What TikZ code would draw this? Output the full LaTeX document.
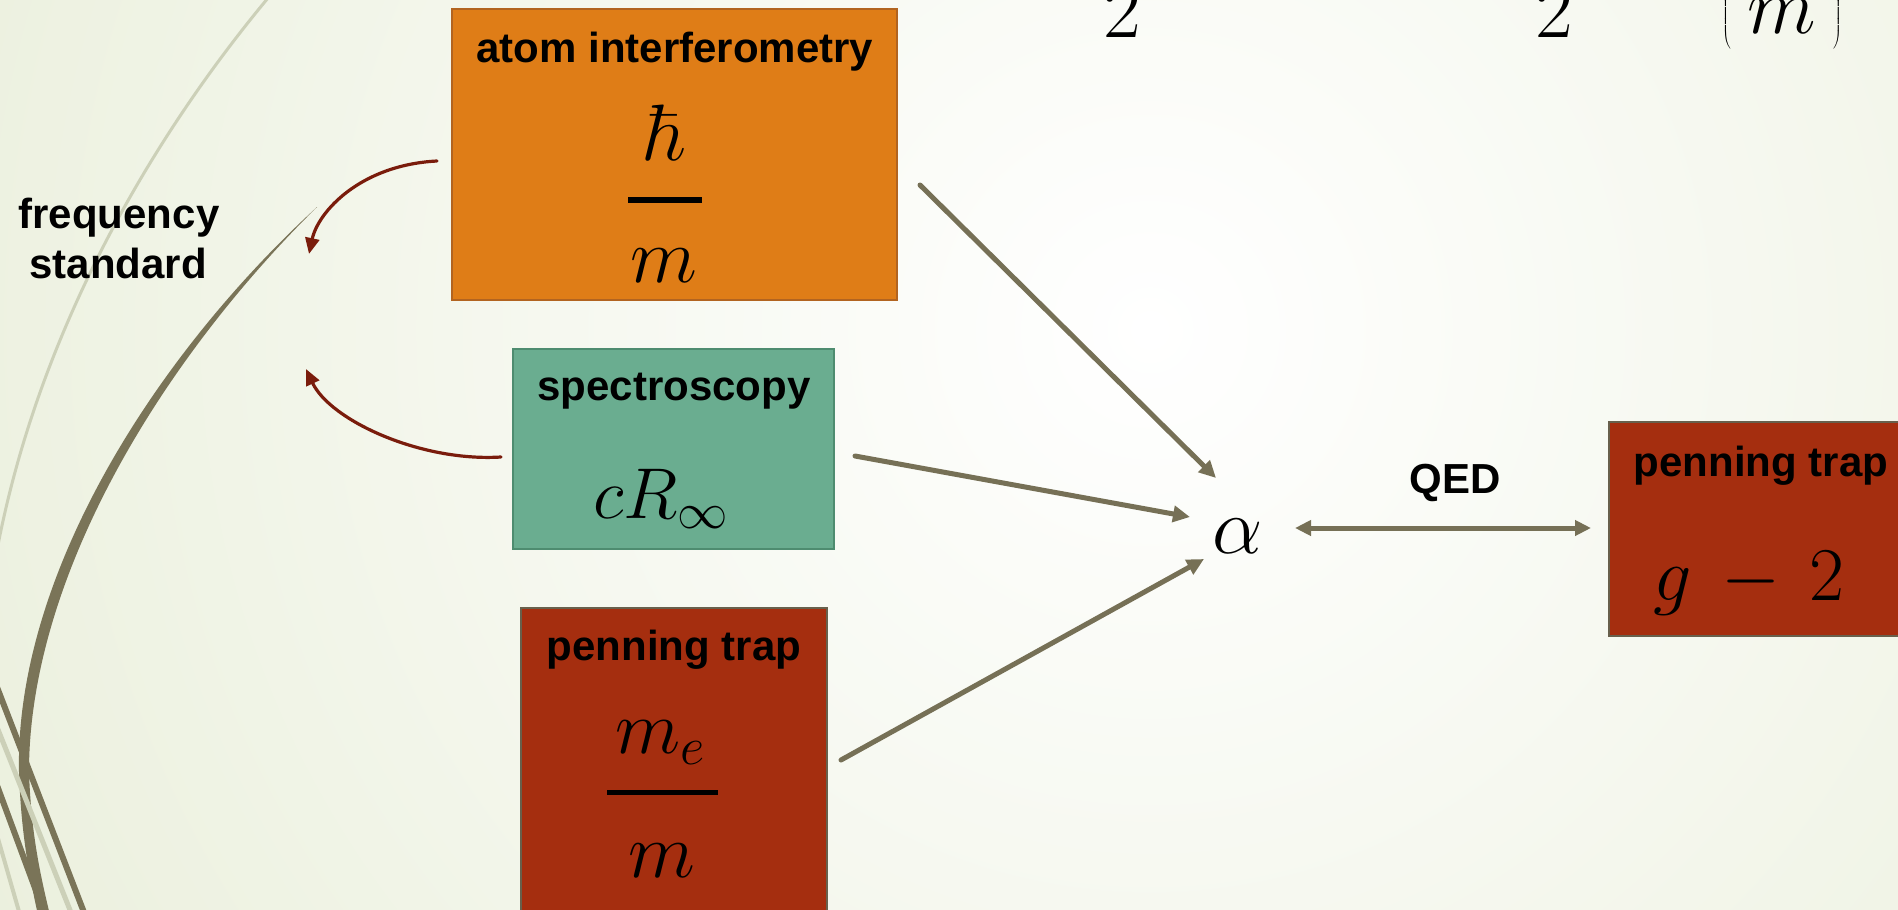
\RequirePackage{fix-cm}
\documentclass[tikz,border=0pt]{standalone}
\usepackage[no-math]{fontspec}
\newfontfamily\arialfont{Liberation Sans}
\usetikzlibrary{arrows.meta}
\definecolor{bgg}{RGB}{226,233,206}
\definecolor{wispdark}{RGB}{122,116,88}
\definecolor{wisplight}{RGB}{204,208,184}
\definecolor{orfill}{RGB}{223,125,23}
\definecolor{ordraw}{RGB}{178,100,32}
\definecolor{grfill}{RGB}{106,173,144}
\definecolor{grdraw}{RGB}{78,140,112}
\definecolor{rdfill}{RGB}{165,46,15}
\definecolor{rddraw}{RGB}{104,96,76}
\definecolor{arrowc}{RGB}{118,112,86}
\definecolor{curvec}{RGB}{122,28,12}
\tikzset{
  slidebox/.style={rectangle, inner sep=0pt, line width=2.5pt},
  lbl/.style={inner sep=0pt, anchor=base, text=black, font=\arialfont\bfseries\fontsize{42pt}{50pt}\selectfont},
  mth/.style={inner sep=0pt, anchor=base, text=black, font=\fontsize{#1pt}{#1pt}\selectfont},
  fracbar/.style={line width=5.5pt, black},
  conn/.style={draw=arrowc, line width=5pt, line cap=round, -{Triangle[length=17pt,width=16pt]}},
  dconn/.style={draw=arrowc, line width=5pt, {Triangle[length=16pt,width=15pt]}-{Triangle[length=16pt,width=15pt]}},
  feedback/.style={draw=curvec, line width=3.2pt, line cap=round, -{Triangle[length=16pt,width=14pt]}},
}
\begin{document}
\begin{tikzpicture}[x=1pt,y=-1pt]
\useasboundingbox (0,0) rectangle (1898,910);
\clip (0,0) rectangle (1898,910);
% background
\fill[bgg] (0,0) rectangle (1898,910);
\shade[inner color=white, outer color=bgg] (1150,330) circle (1900);
% decorative wisps
\draw[wisplight, line width=3pt] (268,-2) .. controls (150,140) and (40,330) .. (-2,545);
\fill[wispdark] (317,207) .. controls (150,360) and (15,580) .. (19,772)
   .. controls (21,830) and (28,870) .. (38,915) -- (50,915)
   .. controls (39,870) and (31,830) .. (29,772)
   .. controls (29,580) and (158,364) .. (317,207) -- cycle;
\draw[wisplight, line width=5pt] (-5,722) -- (72,915);
\draw[wispdark, line width=6pt] (-5,682) -- (85,915);
\draw[wispdark, line width=6pt] (-5,780) -- (45,915);
\draw[wisplight, line width=4pt] (-5,828) -- (20,915);
% top formula fragments
\node[mth=82] (twoA) at (1122,37) {$2$};
\node[mth=82] (twoB) at (1554,37) {$2$};
\node[mth=80] (parm) at (1782,-21) {$\displaystyle\left(\frac{\vphantom{h}\hspace{100pt}}{m}\right)$};
% boxes
\node[slidebox, fill=orfill, draw=ordraw, minimum width=445pt, minimum height=291pt] (ai) at (674.5,154.5) {};
\node[slidebox, fill=grfill, draw=grdraw, minimum width=321pt, minimum height=200pt] (sp) at (673.5,449) {};
\node[slidebox, fill=rdfill, draw=rddraw, minimum width=306pt, minimum height=342pt] (pt) at (674,779) {};
\node[slidebox, fill=rdfill, draw=rddraw, minimum width=341pt, minimum height=214pt] (gt) at (1779.5,529) {};
% box texts
\node[lbl] (aiT) at (675,62) {atom interferometry};
\node[mth=80] (hbarN) at (666,160) {$\hbar$};
\draw[fracbar] (628,200) -- (702,200);
\node[mth=78] (mD) at (664,282) {$m$};
\node[lbl] (spT) at (674,400) {spectroscopy};
\node[mth=72] (cR) at (661,518) {$cR_\infty$};
\node[lbl] (ptT) at (674,660) {penning trap};
\node[mth=76] (meN) at (660,753) {$m_e$};
\draw[fracbar, line width=5pt] (607,792) -- (718,792);
\node[mth=78] (mD2) at (662,877) {$m$};
\node[lbl] (gtT) at (1761,476) {penning trap};
\node[mth=76] (gm2) at (1749,600) {$g\mkern3mu-\mkern3mu2$};
% alpha and labels
\node[mth=80] (alpha) at (1238,553) {$\alpha$};
\node[lbl] (qed) at (1455,493) {QED};
\node[lbl] (fq1) at (119,228) {frequency};
\node[lbl] (fq2) at (118,278) {standard};
% connector end points
\coordinate (aiS) at (920,185); \coordinate (aiE) at (1216,478);
\coordinate (spS) at (855,456); \coordinate (spE) at (1190,517);
\coordinate (ptS) at (841,760); \coordinate (ptE) at (1204,559);
\coordinate (qL) at (1295,528); \coordinate (qR) at (1591,528);
\coordinate (fbAS) at (437,161); \coordinate (fbAE) at (309,254);
\coordinate (fbBS) at (501,457); \coordinate (fbBE) at (306,369);
% connectors
\draw[conn] (aiS) -- (aiE);
\draw[conn] (spS) -- (spE);
\draw[conn] (ptS) -- (ptE);
\draw[dconn] (qL) -- (qR);
\draw[feedback] (fbAS) .. controls (360,165) and (318,212) .. (fbAE);
\draw[feedback] (fbBS) .. controls (420,462) and (330,420) .. (fbBE);
\end{tikzpicture}
\end{document}
